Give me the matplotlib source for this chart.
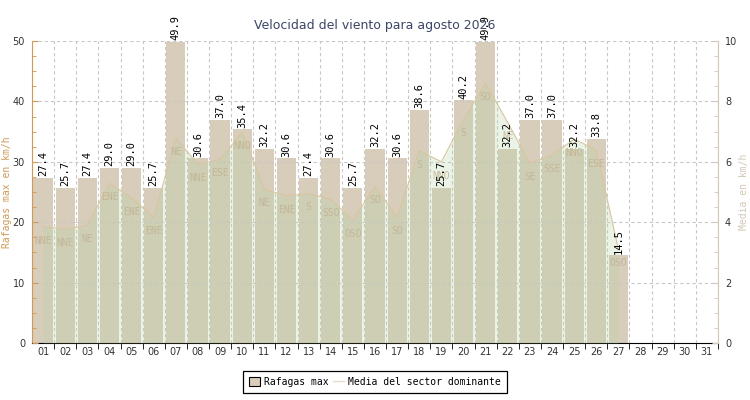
import matplotlib
matplotlib.use('Agg')
from matplotlib import pyplot as plt
from matplotlib.patches import Patch
from matplotlib.lines import Line2D
from matplotlib.ticker import MultipleLocator, FixedLocator

# data
days = list(range(1, 32))
day_labels = ['{:02d}'.format(d) for d in days]
gust_days = list(range(1, 28))
gusts = [27.4, 25.7, 27.4, 29.0, 29.0, 25.7, 49.9, 30.6, 37.0, 35.4,
         32.2, 30.6, 27.4, 30.6, 25.7, 32.2, 30.6, 38.6, 25.7, 40.2,
         49.9, 32.2, 37.0, 37.0, 32.2, 33.8, 14.5]
media = [3.85, 3.76, 3.9, 5.29, 4.8, 4.16, 6.78, 5.92, 6.08, 6.98,
         5.09, 4.87, 4.95, 4.76, 4.07, 5.18, 4.16, 6.37, 6.0, 7.4,
         8.6, 7.3, 5.95, 6.22, 6.75, 6.39, 3.1]
sectors = ['NNE', 'NNE', 'NE', 'ENE', 'ENE', 'ENE', 'NE', 'NNE', 'ESE', 'NNO',
           'NE', 'ENE', 'S', 'SSO', 'OSO', 'SO', 'SO', 'S', 'NNO', 'S',
           'SO', 'NE', 'SE', 'SSE', 'NNO', 'ESE', 'OSO']

bar_color = '#d8ccba'
fill_color = '#b2d4a2'
line_color = '#d8c6a0'
left_color = '#cf9a55'
right_color = '#d2c8b6'
grid_color = '#c8c8c8'
mono = 'DejaVu Sans Mono'

fig = plt.figure(figsize=(7.5, 4), dpi=100)
ax = fig.add_axes([32/750, 57/400, 686/750, 302/400])
ax2 = ax.twinx()

# bars
ax.bar(gust_days, gusts, width=0.87, color=bar_color, zorder=2)
ax.set_xlim(0.5, 31.5)
ax.set_ylim(0, 50)
ax.yaxis.set_major_locator(MultipleLocator(10))
ax.yaxis.set_minor_locator(MultipleLocator(2.5))
ax.set_xticks(days)
ax.set_xticklabels(day_labels)
ax.xaxis.set_minor_locator(FixedLocator([d + 0.5 for d in days]))
ax.tick_params(axis='x', which='major', length=0, labelsize=7, pad=3, labelcolor='#333333')
ax.tick_params(axis='x', which='minor', length=4, color='black', direction='out')
ax.tick_params(axis='y', which='both', direction='in', color=left_color, labelsize=7,
               labelcolor='#333333', pad=5)
ax.tick_params(axis='y', which='major', length=4)
ax.tick_params(axis='y', which='minor', length=3)
ax.grid(axis='y', which='major', color=grid_color, linestyle=(0, (3, 2.5)), linewidth=0.8, zorder=3)
ax.grid(axis='x', which='minor', color=grid_color, linestyle=(0, (3, 2.5)), linewidth=0.8, zorder=3)
ax.set_axisbelow(False)
for s in ['top', 'right']:
    ax.spines[s].set_visible(False)
ax.spines['left'].set_color(left_color)
ax.spines['bottom'].set_color('black')

# area on right axis
ax2.fill_between(gust_days, 0, media, color=fill_color, alpha=0.27, linewidth=0, zorder=1)
ax2.plot(gust_days, media, color=line_color, linewidth=0.8, zorder=2)
ax2.set_ylim(0, 10)
ax2.yaxis.set_major_locator(MultipleLocator(2))
ax2.yaxis.set_minor_locator(MultipleLocator(0.5))
ax2.tick_params(axis='y', which='both', direction='in', color=right_color, labelsize=7,
                labelcolor='#333333', pad=5)
ax2.tick_params(axis='y', which='major', length=4)
ax2.tick_params(axis='y', which='minor', length=3)
for s in ['top', 'left', 'bottom']:
    ax2.spines[s].set_visible(False)
ax2.spines['right'].set_color(right_color)

# sector labels
for d, m, s in zip(gust_days, media, sectors):
    ax2.annotate(s, xy=(d, m), xytext=(0, -10), textcoords='offset points',
                 ha='center', va='center', fontsize=7, family=mono,
                 color='#c2b294', alpha=0.85, zorder=3)

# value labels on top of bars
for d, g in zip(gust_days, gusts):
    ax2.annotate('{:.1f}'.format(g), xy=(d, g), xycoords=ax.transData,
                 xytext=(0, 1), textcoords='offset points', rotation=90,
                 ha='center', va='bottom', fontsize=7.5, family=mono,
                 color='black', annotation_clip=False, zorder=5)

# title and axis labels
fig.text(0.5, 1 - 25/400, 'Velocidad del viento para agosto 2026', ha='center', va='center',
         fontsize=9, color='#3d4566')
fig.text(7.5/750, 1 - 192/400, 'Rafagas max en km/h', rotation=90, ha='center', va='center',
         fontsize=7, family=mono, color=left_color)
fig.text(743.5/750, 1 - 192/400, 'Media en km/h', rotation=90, ha='center', va='center',
         fontsize=7, family=mono, color=right_color)

# legend
handles = [Patch(facecolor=bar_color, edgecolor='black', linewidth=0.8),
           Line2D([0], [0], color='#e8dcc8', linewidth=1)]
leg = fig.legend(handles, ['Rafagas max', 'Media del sector dominante'], loc='center',
                 bbox_to_anchor=(375/750, 1 - 382/400), ncol=2, fancybox=False,
                 edgecolor='black', framealpha=1, prop={'family': mono, 'size': 7},
                 handlelength=1.1, handleheight=1.1, handletextpad=0.5, columnspacing=0.4,
                 borderpad=0.6)
leg.get_frame().set_linewidth(0.9)

fig.savefig('out.png', dpi=100)
